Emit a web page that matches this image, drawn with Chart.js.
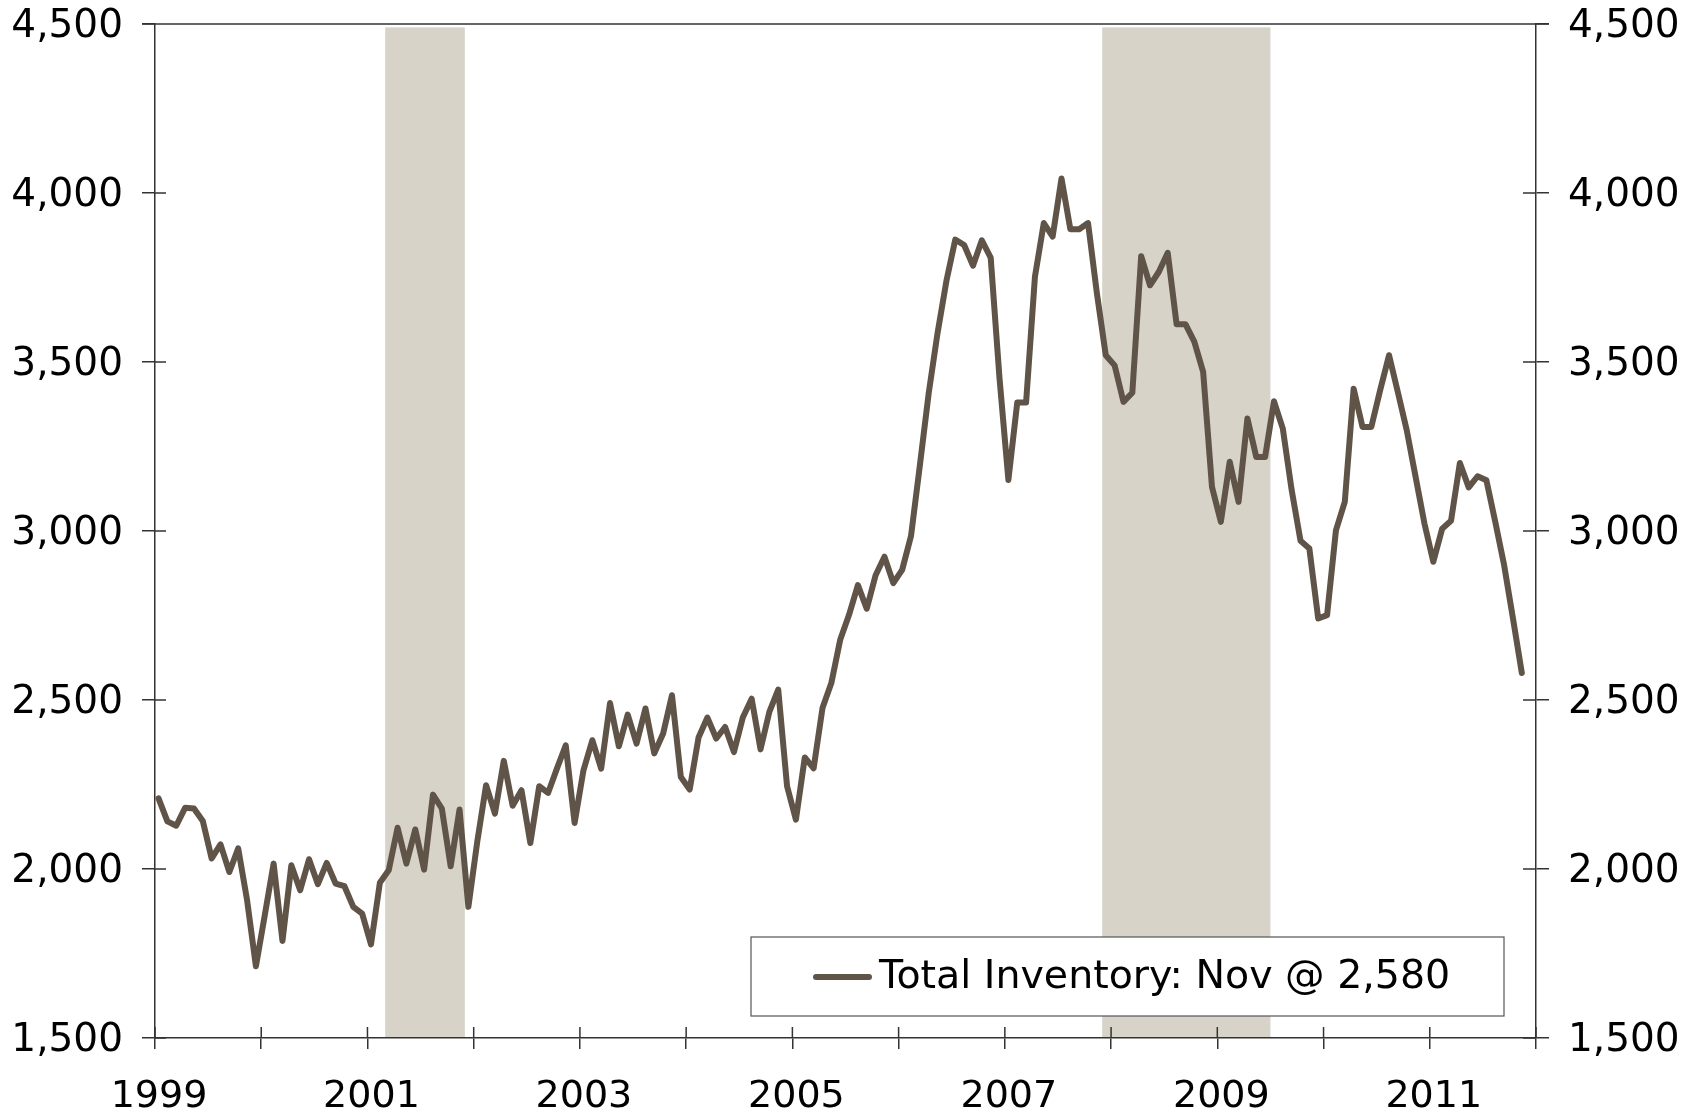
<!DOCTYPE html>
<html>
<head>
<meta charset="utf-8">
<script src="https://cdn.jsdelivr.net/npm/chart.js@4.4.0/dist/chart.umd.min.js"></script>
<style>
html, body { margin: 0; padding: 0; background: #fff; }
canvas { display: block; }
</style>
</head>
<body>
<canvas id="chart" width="1695" height="1116"></canvas>
<script>
// monthly values, Jan 1999 .. Nov 2011
const startYear = 1999;
const inventory = [
  2209, 2141, 2128, 2181, 2179, 2142, 2031, 2073, 1991, 2061, 1908, 1712,
  1863, 2016, 1787, 2011, 1937, 2029, 1955, 2018, 1957, 1949, 1888, 1868,
  1777, 1959, 1996, 2122, 2016, 2117, 1998, 2220, 2179, 2008, 2176, 1888,
  2080, 2248, 2164, 2320, 2187, 2233, 2077, 2245, 2225, 2297, 2366, 2136,
  2292, 2381, 2297, 2491, 2363, 2457, 2371, 2475, 2342, 2401, 2514, 2272,
  2235, 2389, 2448, 2386, 2420, 2346, 2448, 2504, 2354, 2465, 2531, 2245,
  2146, 2330, 2298, 2476, 2550, 2678, 2752, 2840, 2770, 2869, 2924, 2846,
  2885, 2985, 3194, 3408, 3586, 3740, 3862, 3846, 3785, 3860, 3809, 3451,
  3151, 3380, 3380, 3752, 3911, 3871, 4043, 3893, 3893, 3911, 3703, 3520,
  3490, 3382, 3409, 3813, 3727, 3767, 3823, 3612, 3612, 3560, 3471, 3130,
  3027, 3205, 3086, 3333, 3219, 3219, 3384, 3303, 3121, 2971, 2948, 2741,
  2751, 3002, 3086, 3421, 3308, 3308, 3417, 3520, 3410, 3298, 3160, 3022,
  2909, 3007, 3030, 3201, 3129, 3162, 3150, 3027, 2899, 2741, 2580
];
// recessions as month offsets from Jan 1999 (Mar-Nov 2001, Dec 2007-Jun 2009)
const recessionStart = [26, 107];
const recessionEnd = [35, 126];
const seriesLabel = 'Total Inventory: Nov @ 2,580';

const yMin = 1500, yMax = 4500, yStep = 500;
const xMax = 156;

const lineColor = '#5f5447';
const axisColor = '#333';
const fontFamily = '"DejaVu Sans", Verdana, sans-serif';

const points = inventory.map((v, i) => ({ x: i + 0.4, y: v }));

const recessionBars = {
  id: 'recessionBars',
  beforeDatasetsDraw(chart) {
    const { ctx, chartArea, scales } = chart;
    const top = scales.y.getPixelForValue(4490);
    ctx.save();
    ctx.fillStyle = '#d7d3c8';
    recessionStart.forEach((s, k) => {
      const x0 = scales.x.getPixelForValue(s);
      const x1 = scales.x.getPixelForValue(recessionEnd[k]);
      ctx.fillRect(x0, top, x1 - x0, chartArea.bottom - top - 1);
    });
    ctx.restore();
  }
};

// ticks that cross the axis lines, plus the top border
const frame = {
  id: 'frame',
  afterDatasetsDraw(chart) {
    const { ctx, chartArea, scales } = chart;
    ctx.save();
    ctx.strokeStyle = axisColor;
    ctx.lineWidth = 1.5;
    ctx.beginPath();
    ctx.moveTo(chartArea.left - 13, chartArea.top);
    ctx.lineTo(chartArea.right + 13, chartArea.top);
    scales.y.ticks.forEach(t => {
      const py = scales.y.getPixelForValue(t.value);
      ctx.moveTo(chartArea.left, py);
      ctx.lineTo(chartArea.left + 11, py);
      ctx.moveTo(chartArea.right, py);
      ctx.lineTo(chartArea.right - 13, py);
    });
    scales.x.ticks.forEach(t => {
      const px = scales.x.getPixelForValue(t.value);
      ctx.moveTo(px, chartArea.bottom);
      ctx.lineTo(px, chartArea.bottom - 11);
    });
    ctx.stroke();
    ctx.restore();
  }
};

const legendBox = {
  id: 'legendBox',
  afterDraw(chart) {
    const ctx = chart.ctx;
    const ds = chart.data.datasets[0];
    ctx.save();
    ctx.fillStyle = '#fff';
    ctx.fillRect(751, 937, 753, 79);
    ctx.strokeStyle = '#555';
    ctx.lineWidth = 1.2;
    ctx.strokeRect(751, 937, 753, 79);
    ctx.strokeStyle = ds.borderColor;
    ctx.lineWidth = 6;
    ctx.lineCap = 'round';
    ctx.beginPath();
    ctx.moveTo(816, 977);
    ctx.lineTo(869, 977);
    ctx.stroke();
    ctx.fillStyle = '#000';
    ctx.font = '39.5px ' + fontFamily;
    ctx.textBaseline = 'middle';
    ctx.fillText(ds.label, 879, 978);
    ctx.restore();
  }
};

const yAxis = (position, padding) => ({
  type: 'linear',
  position: position,
  min: yMin,
  max: yMax,
  afterFit: s => {
    s.width = position === 'left' ? 155 : 1695 - 1536;
    s.paddingTop = 0;
    s.paddingBottom = 0;
  },
  ticks: {
    stepSize: yStep,
    padding: padding,
    labelOffset: 3,
    color: '#000',
    font: { family: fontFamily, size: 39 },
    callback: v => v.toLocaleString('en-US')
  },
  grid: { drawOnChartArea: false, tickLength: 13, color: axisColor, lineWidth: 1.5 },
  border: { display: true, color: axisColor, width: 1.5 }
});

new Chart(document.getElementById('chart').getContext('2d'), {
  type: 'line',
  data: {
    datasets: [{
      label: seriesLabel,
      data: points,
      borderColor: lineColor,
      borderWidth: 6,
      pointRadius: 0,
      tension: 0,
      borderJoinStyle: 'round',
      borderCapStyle: 'round',
      yAxisID: 'y'
    }]
  },
  options: {
    responsive: false,
    animation: false,
    layout: { padding: { top: 24, left: 0, right: 0, bottom: 0 } },
    plugins: { legend: { display: false }, tooltip: { enabled: false } },
    scales: {
      x: {
        type: 'linear',
        min: 0,
        max: xMax,
        afterFit: s => { s.height = 1116 - 1038; },
        ticks: {
          stepSize: 12,
          padding: 25,
          labelOffset: 4,
          maxRotation: 0,
          autoSkip: false,
          color: '#000',
          font: { family: fontFamily, size: 38 },
          callback: v => (v % 24 === 0 && v < xMax) ? String(startYear + v / 12) : ''
        },
        grid: { drawOnChartArea: false, tickLength: 11, color: axisColor, lineWidth: 1.5 },
        border: { display: true, color: axisColor, width: 1.5 }
      },
      y: yAxis('left', 19),
      y2: yAxis('right', 19)
    }
  },
  plugins: [recessionBars, frame, legendBox]
});
</script>
</body>
</html>
